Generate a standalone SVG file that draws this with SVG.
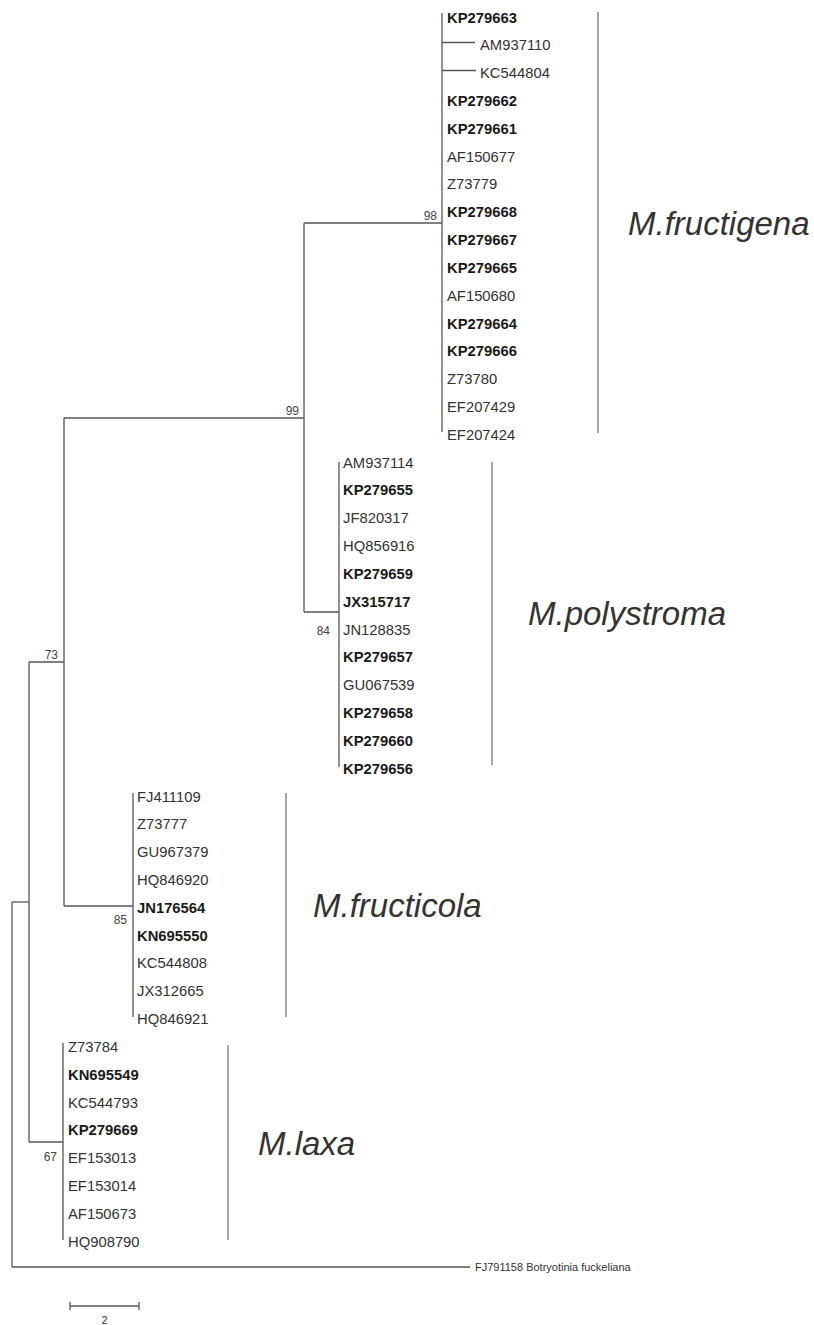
<svg xmlns="http://www.w3.org/2000/svg" width="814" height="1325" viewBox="0 0 814 1325">
<style>
.br{stroke:#555;stroke-width:1.3;fill:none}
.bk{stroke:#777;stroke-width:1.3;fill:none}
.lf{font-family:"Liberation Sans",Arial,sans-serif;font-size:14.8px;fill:#333}
.b{font-weight:bold;fill:#1a1a1a}
.bs{font-family:"Liberation Sans",Arial,sans-serif;font-size:12px;fill:#444;text-anchor:end}
.sp{font-family:"Liberation Sans",Arial,sans-serif;font-size:33px;font-style:italic;fill:#333}
.sm{font-family:"Liberation Sans",Arial,sans-serif;font-size:11px;fill:#333}
</style>
<rect width="814" height="1325" fill="#fff"/>
<g id="connectors">
<path class="br" d="M442,13V432"/>
<path class="br" d="M442,42.5H475M442,70.5H476"/>
<path class="br" d="M304,223H442"/>
<path class="br" d="M339,462V767"/>
<path class="br" d="M304,612H339"/>
<path class="br" d="M304,223V612"/>
<path class="br" d="M64,418H304"/>
<path class="br" d="M133,793V1017"/>
<path class="br" d="M64,906H133"/>
<path class="br" d="M64,418V906"/>
<path class="br" d="M29,662H64"/>
<path class="br" d="M63,1043V1240"/>
<path class="br" d="M29,1142H63"/>
<path class="br" d="M29,662V1142"/>
<path class="br" d="M12,902H29"/>
<path class="br" d="M12,902V1267"/>
<path class="br" d="M12,1267H470"/>
</g>
<g id="bootstrap">
<text class="bs" x="437" y="220">98</text>
<text class="bs" x="299" y="415">99</text>
<text class="bs" x="330" y="635">84</text>
<text class="bs" x="58" y="659">73</text>
<text class="bs" x="127" y="924">85</text>
<text class="bs" x="57" y="1161">67</text>
</g>
<g id="clade-fructigena">
<text class="lf b" x="447" y="22.5">KP279663</text>
<text class="lf" x="480" y="50.3">AM937110</text>
<text class="lf" x="480" y="78.1">KC544804</text>
<text class="lf b" x="447" y="106">KP279662</text>
<text class="lf b" x="447" y="133.8">KP279661</text>
<text class="lf" x="447" y="161.6">AF150677</text>
<text class="lf" x="447" y="189.4">Z73779</text>
<text class="lf b" x="447" y="217.2">KP279668</text>
<text class="lf b" x="447" y="245.1">KP279667</text>
<text class="lf b" x="447" y="272.9">KP279665</text>
<text class="lf" x="447" y="300.7">AF150680</text>
<text class="lf b" x="447" y="328.5">KP279664</text>
<text class="lf b" x="447" y="356.3">KP279666</text>
<text class="lf" x="447" y="384.2">Z73780</text>
<text class="lf" x="447" y="412">EF207429</text>
<text class="lf" x="447" y="439.8">EF207424</text>
<path class="bk" d="M598,12V433"/>
<text class="sp" x="628" y="235">M.fructigena</text>
</g>
<g id="clade-polystroma">
<text class="lf" x="343" y="467.6">AM937114</text>
<text class="lf b" x="343" y="495.4">KP279655</text>
<text class="lf" x="343" y="523.3">JF820317</text>
<text class="lf" x="343" y="551.1">HQ856916</text>
<text class="lf b" x="343" y="578.9">KP279659</text>
<text class="lf b" x="343" y="606.7">JX315717</text>
<text class="lf" x="343" y="634.5">JN128835</text>
<text class="lf b" x="343" y="662.4">KP279657</text>
<text class="lf" x="343" y="690.2">GU067539</text>
<text class="lf b" x="343" y="718">KP279658</text>
<text class="lf b" x="343" y="745.8">KP279660</text>
<text class="lf b" x="343" y="773.6">KP279656</text>
<path class="bk" d="M492,462V765"/>
<text class="sp" x="528" y="625">M.polystroma</text>
</g>
<g id="clade-fructicola">
<text class="lf" x="137" y="801.5">FJ411109</text>
<text class="lf" x="137" y="829.3">Z73777</text>
<text class="lf" x="137" y="857.1">GU967379</text>
<text class="lf" x="137" y="884.9">HQ846920</text>
<text class="lf b" x="137" y="912.7">JN176564</text>
<text class="lf b" x="137" y="940.6">KN695550</text>
<text class="lf" x="137" y="968.4">KC544808</text>
<text class="lf" x="137" y="996.2">JX312665</text>
<text class="lf" x="137" y="1024">HQ846921</text>
<path class="bk" d="M286,793V1017"/>
<text class="sp" x="313" y="917">M.fructicola</text>
</g>
<g id="clade-laxa">
<text class="lf" x="68" y="1051.8">Z73784</text>
<text class="lf b" x="68" y="1079.7">KN695549</text>
<text class="lf" x="68" y="1107.5">KC544793</text>
<text class="lf b" x="68" y="1135.3">KP279669</text>
<text class="lf" x="68" y="1163.1">EF153013</text>
<text class="lf" x="68" y="1190.9">EF153014</text>
<text class="lf" x="68" y="1218.8">AF150673</text>
<text class="lf" x="68" y="1246.6">HQ908790</text>
<path class="bk" d="M228,1045V1240"/>
<text class="sp" x="258" y="1155">M.laxa</text>
</g>
<g id="outgroup">
<text class="sm" x="475" y="1271">FJ791158 Botryotinia fuckeliana</text>
</g>
<g id="scale">
<path class="br" d="M70,1306H139M70,1302V1310M139,1302V1310"/>
<text class="sm" x="104.5" y="1324" text-anchor="middle">2</text>
</g>
</svg>
